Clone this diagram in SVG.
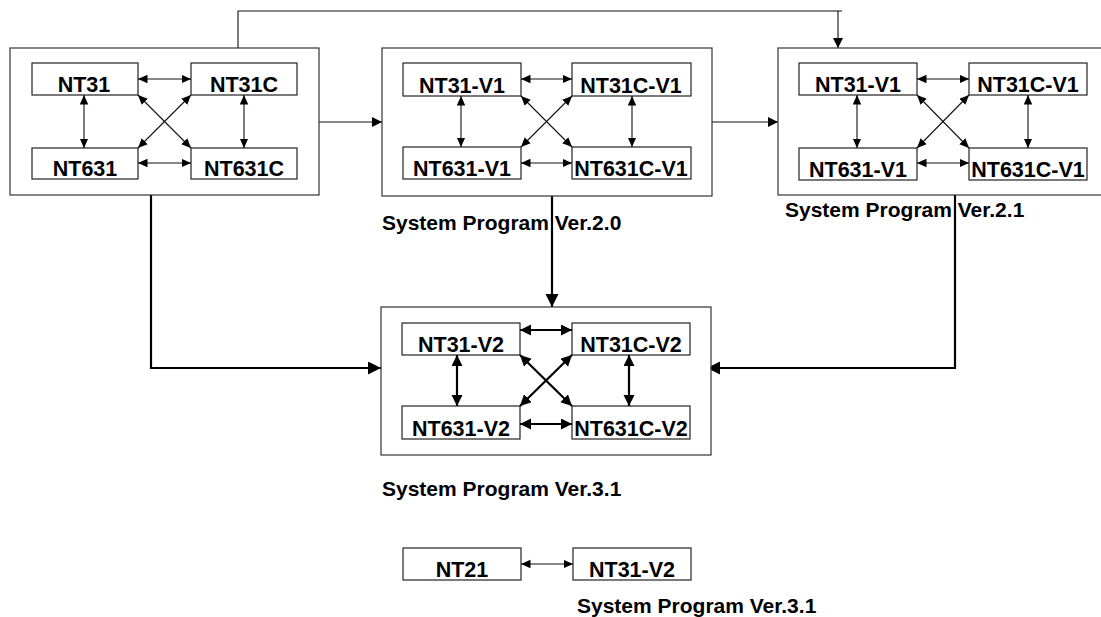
<svg xmlns="http://www.w3.org/2000/svg" width="1101" height="617" viewBox="0 0 1101 617">
<defs>
<style>
.box{fill:#fff;stroke:#333;stroke-width:1.2}
.node{fill:#fff;stroke:#222;stroke-width:1.2}
.t{font-family:"Liberation Sans",Arial,sans-serif;font-weight:bold;font-size:21.5px;fill:#000;text-anchor:middle}
.lbl{font-family:"Liberation Sans",Arial,sans-serif;font-weight:bold;font-size:21px;fill:#000}
.a1{stroke:#111;stroke-width:1.1;fill:none;marker-start:url(#h1);marker-end:url(#h1)}
.a2{stroke:#000;stroke-width:2.2;fill:none;marker-start:url(#h2);marker-end:url(#h2)}
.c1{stroke:#111;stroke-width:1.1;fill:none}
.c2{stroke:#000;stroke-width:2.2;fill:none}
</style>
<marker id="h1" markerUnits="userSpaceOnUse" markerWidth="11" markerHeight="9" refX="9.5" refY="4.25" orient="auto-start-reverse"><path d="M0,0 L9.5,4.25 L0,8.5 z" fill="#000"/></marker>
<marker id="h2" markerUnits="userSpaceOnUse" markerWidth="12" markerHeight="12" refX="11" refY="5.5" orient="auto-start-reverse"><path d="M0,0 L11,5.5 L0,11 z" fill="#000"/></marker>
<marker id="hc" markerUnits="userSpaceOnUse" markerWidth="11" markerHeight="11" refX="10" refY="5" orient="auto"><path d="M0,0 L10,5 L0,10 z" fill="#000"/></marker>
<marker id="hc2" markerUnits="userSpaceOnUse" markerWidth="14" markerHeight="14" refX="13" refY="6.5" orient="auto"><path d="M0,0 L13,6.5 L0,13 z" fill="#000"/></marker>
</defs>
<rect width="1101" height="617" fill="#fff"/>

<g id="connectors">
<path class="c1" d="M238,48 V11 H842"/>
<path class="c1" d="M838,11 V48" marker-end="url(#hc)"/>
<path class="c1" d="M319,122 H382" marker-end="url(#hc)"/>
<path class="c1" d="M712,122 H778" marker-end="url(#hc)"/>
<path class="c2" d="M151,195 V368 H381" marker-end="url(#hc2)"/>
<path class="c2" d="M552,196 V307" marker-end="url(#hc2)"/>
<path class="c2" d="M955,195 V368 H707" marker-end="url(#hc2)"/>
</g>

<g id="group-v1">
<rect class="box" x="10" y="48" width="309" height="147"/>
<g id="nt31"><rect class="node" x="32" y="63" width="106" height="32"/><text class="t" x="84" y="92">NT31</text></g>
<g id="nt31c"><rect class="node" x="191" y="63" width="106" height="32"/><text class="t" x="244" y="92">NT31C</text></g>
<g id="nt631"><rect class="node" x="32" y="148" width="106" height="31"/><text class="t" x="85" y="176">NT631</text></g>
<g id="nt631c"><rect class="node" x="191" y="148" width="106" height="31"/><text class="t" x="244" y="176">NT631C</text></g>
<line class="a1" x1="138" y1="79" x2="191" y2="79"/>
<line class="a1" x1="138" y1="163" x2="191" y2="163"/>
<line class="a1" x1="84" y1="95" x2="84" y2="148"/>
<line class="a1" x1="244" y1="95" x2="244" y2="148"/>
<line class="a1" x1="138" y1="95" x2="191" y2="148"/>
<line class="a1" x1="191" y1="95" x2="138" y2="148"/>
</g>

<g id="group-ver20">
<rect class="box" x="382" y="48" width="330" height="148"/>
<g id="nt31-v1-a"><rect class="node" x="403" y="63" width="118" height="33"/><text class="t" x="462" y="93">NT31-V1</text></g>
<g id="nt31c-v1-a"><rect class="node" x="572" y="63" width="119" height="33"/><text class="t" x="631" y="93">NT31C-V1</text></g>
<g id="nt631-v1-a"><rect class="node" x="403" y="147" width="118" height="32"/><text class="t" x="462" y="176">NT631-V1</text></g>
<g id="nt631c-v1-a"><rect class="node" x="572" y="147" width="119" height="32"/><text class="t" x="631" y="176">NT631C-V1</text></g>
<line class="a1" x1="521" y1="79" x2="572" y2="79"/>
<line class="a1" x1="521" y1="163" x2="572" y2="163"/>
<line class="a1" x1="461" y1="96" x2="461" y2="147"/>
<line class="a1" x1="632" y1="96" x2="632" y2="147"/>
<line class="a1" x1="521" y1="96" x2="572" y2="147"/>
<line class="a1" x1="572" y1="96" x2="521" y2="147"/>
<text class="lbl" x="382" y="230">System Program Ver.2.0</text>
</g>

<g id="group-ver21">
<rect class="box" x="778" y="48" width="330" height="147"/>
<g id="nt31-v1-b"><rect class="node" x="799" y="63" width="118" height="32"/><text class="t" x="858" y="92">NT31-V1</text></g>
<g id="nt31c-v1-b"><rect class="node" x="969" y="63" width="118" height="32"/><text class="t" x="1028" y="92">NT31C-V1</text></g>
<g id="nt631-v1-b"><rect class="node" x="799" y="148" width="118" height="32"/><text class="t" x="858" y="177">NT631-V1</text></g>
<g id="nt631c-v1-b"><rect class="node" x="969" y="148" width="118" height="32"/><text class="t" x="1028" y="177">NT631C-V1</text></g>
<line class="a1" x1="917" y1="79" x2="969" y2="79"/>
<line class="a1" x1="917" y1="163" x2="969" y2="163"/>
<line class="a1" x1="857" y1="95" x2="857" y2="148"/>
<line class="a1" x1="1028" y1="95" x2="1028" y2="148"/>
<line class="a1" x1="917" y1="95" x2="969" y2="148"/>
<line class="a1" x1="969" y1="95" x2="917" y2="148"/>
<text class="lbl" x="785" y="217">System Program Ver.2.1</text>
</g>

<g id="group-ver31">
<rect class="box" x="381" y="307" width="330" height="148"/>
<g id="nt31-v2"><rect class="node" x="402" y="323" width="118" height="32"/><text class="t" x="461" y="352">NT31-V2</text></g>
<g id="nt31c-v2"><rect class="node" x="572" y="323" width="118" height="32"/><text class="t" x="631" y="352">NT31C-V2</text></g>
<g id="nt631-v2"><rect class="node" x="402" y="406" width="118" height="33"/><text class="t" x="461" y="436">NT631-V2</text></g>
<g id="nt631c-v2"><rect class="node" x="572" y="406" width="118" height="33"/><text class="t" x="631" y="436">NT631C-V2</text></g>
<line class="a2" x1="520" y1="330" x2="572" y2="330"/>
<line class="a2" x1="520" y1="424" x2="572" y2="424"/>
<line class="a2" x1="457" y1="355" x2="457" y2="406"/>
<line class="a2" x1="629" y1="355" x2="629" y2="406"/>
<line class="a2" x1="520" y1="355" x2="572" y2="406"/>
<line class="a2" x1="572" y1="355" x2="520" y2="406"/>
<text class="lbl" x="382" y="496">System Program Ver.3.1</text>
</g>

<g id="group-nt21">
<g id="nt21"><rect class="node" x="403" y="548" width="118" height="32"/><text class="t" x="462" y="577">NT21</text></g>
<g id="nt31-v2-b"><rect class="node" x="573" y="548" width="118" height="32"/><text class="t" x="632" y="577">NT31-V2</text></g>
<line class="a1" x1="521" y1="564" x2="573" y2="564"/>
<text class="lbl" x="577" y="613">System Program Ver.3.1</text>
</g>
</svg>
